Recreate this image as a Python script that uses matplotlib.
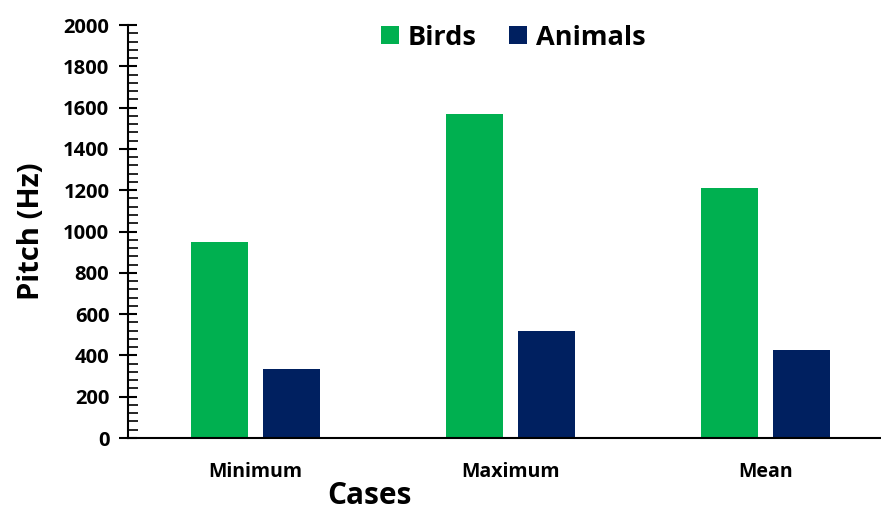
import numpy as np
import matplotlib.pyplot as plt
from matplotlib.ticker import MultipleLocator

# Data
cases = ['Minimum', 'Maximum', 'Mean']
birds = [950, 1570, 1210]
animals = [335, 520, 428]

plt.rcParams['font.family'] = ['Open Sans', 'DejaVu Sans']
plt.rcParams['font.weight'] = 'bold'

fig = plt.figure(figsize=(8.81, 5.12), dpi=100)
ax = fig.add_axes([0.1453, 0.1445, 0.8547, 0.8066])

x = np.arange(len(cases))
w = 0.224
ax.bar(x - 0.141, birds, w, color='#00B050', label='Birds')
ax.bar(x + 0.141, animals, w, color='#002060', label='Animals')

ax.set_xlim(-0.5, 2.453)
ax.set_ylim(0, 2000)
ax.set_xticks(x)
ax.set_xticklabels(cases, fontsize=14, fontweight='bold')
ax.yaxis.set_major_locator(MultipleLocator(200))
ax.yaxis.set_minor_locator(MultipleLocator(40))
ax.tick_params(axis='y', which='major', direction='inout', length=13, width=1.5,
               labelsize=14.5, pad=7)
ax.tick_params(axis='y', which='minor', direction='in', length=7, width=1.2)
ax.tick_params(axis='x', length=0, pad=17)
for lbl in ax.get_yticklabels():
    lbl.set_fontweight('bold')

for s in ['top', 'right']:
    ax.spines[s].set_visible(False)
ax.spines['left'].set_linewidth(1.5)
ax.spines['bottom'].set_linewidth(1.5)

ax.set_xlabel('Cases', fontsize=21.5, fontweight='bold')
ax.xaxis.set_label_coords(0.32, -0.105)
ax.set_ylabel('Pitch (Hz)', fontsize=21, fontweight='bold', labelpad=12)

ax.legend(loc='upper center', bbox_to_anchor=(0.512, 1.06), ncol=2, frameon=False,
          prop={'size': 19.5, 'weight': 'bold'}, handlelength=0.65, handleheight=0.65,
          handletextpad=0.35, columnspacing=1.2)

fig.savefig('out.png', dpi=100)
